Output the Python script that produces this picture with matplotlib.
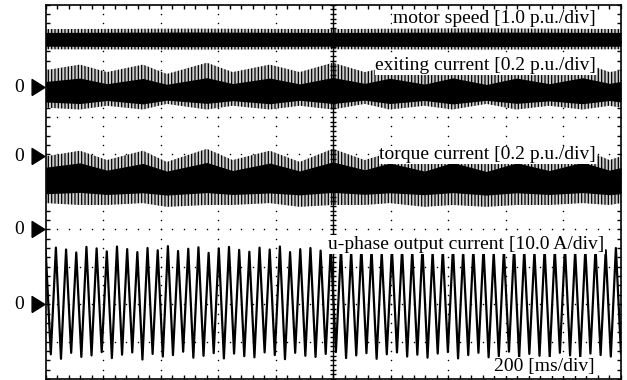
import numpy as np
import matplotlib.pyplot as plt

plt.rcParams['font.family'] = ['Liberation Serif', 'DejaVu Serif']
plt.rcParams['hatch.linewidth'] = 0.9

# time axis: 200 ms/div, 10 div
t_end = 2000

# envelope break points (ms) of the slowly pulsing current traces
env_t = [0, 119, 213, 338, 421, 560, 650, 779, 883, 998,
         1109, 1196, 1317, 1415, 1532, 1637, 1751, 1866, 1960, 2000]

# exciting current [p.u.]
ex_core_hi = [0.400, 0.418, 0.388, 0.416, 0.385, 0.420, 0.389, 0.418, 0.387, 0.421,
              0.390, 0.417, 0.386, 0.419, 0.384, 0.418, 0.388, 0.420, 0.390, 0.400]
ex_core_lo = [0.290, 0.282, 0.298, 0.280, 0.300, 0.283, 0.297, 0.281, 0.299, 0.282,
              0.300, 0.282, 0.298, 0.280, 0.299, 0.283, 0.296, 0.281, 0.298, 0.290]
ex_peak_hi = [0.46, 0.49, 0.45, 0.49, 0.44, 0.50, 0.45, 0.49, 0.45, 0.50,
              0.45, 0.48, 0.44, 0.49, 0.44, 0.49, 0.45, 0.50, 0.45, 0.46]
ex_peak_lo = [0.26, 0.25, 0.27, 0.25, 0.28, 0.25, 0.27, 0.25, 0.27, 0.25,
              0.28, 0.25, 0.27, 0.25, 0.28, 0.25, 0.27, 0.25, 0.27, 0.26]

# torque current [p.u.]
tq_core_hi = [0.332, 0.355, 0.316, 0.352, 0.311, 0.357, 0.314, 0.354, 0.312, 0.360,
              0.318, 0.354, 0.311, 0.357, 0.309, 0.355, 0.314, 0.358, 0.316, 0.330]
tq_core_lo = [0.190, 0.197, 0.186, 0.195, 0.183, 0.196, 0.186, 0.194, 0.184, 0.197,
              0.187, 0.195, 0.185, 0.196, 0.183, 0.195, 0.186, 0.196, 0.185, 0.190]
tq_peak_hi = [0.39, 0.42, 0.37, 0.42, 0.36, 0.43, 0.37, 0.42, 0.36, 0.43,
              0.37, 0.41, 0.36, 0.42, 0.36, 0.42, 0.37, 0.43, 0.37, 0.39]
tq_peak_lo = [0.14, 0.13, 0.13, 0.14, 0.12, 0.13, 0.13, 0.14, 0.12, 0.13,
              0.13, 0.14, 0.12, 0.13, 0.12, 0.13, 0.13, 0.14, 0.13, 0.14]

# motor speed [p.u.]
sp_t = [0, 500, 1000, 1500, 2000]
sp_core_hi = [1.46, 1.47, 1.46, 1.47, 1.46]
sp_core_lo = [1.09, 1.08, 1.09, 1.08, 1.09]
sp_peak_hi = [1.55, 1.56, 1.55, 1.57, 1.55]
sp_peak_lo = [1.01, 1.00, 1.01, 1.00, 1.01]

# u-phase output current [A], positive and negative peaks of each cycle
u_pos = [14.2, 15.1, 14.6, 13.8, 15.3, 14.9, 14.1, 15.4, 14.7, 13.9,
         15.0, 14.4, 15.5, 14.2, 14.8, 15.2, 13.7, 14.9, 15.3, 14.5,
         14.0, 15.1, 14.6, 15.4, 13.9, 14.7, 15.0, 14.3, 15.5, 14.8,
         14.1, 15.2, 14.6, 13.8, 15.0, 14.9, 14.4, 15.3, 14.0, 14.7,
         15.4, 14.2, 14.8, 15.1, 13.9, 14.6, 15.3, 14.5, 14.1, 15.0,
         14.7, 15.2, 14.3, 14.9, 15.1, 14.4, 15.0]
u_neg = [-13.4, -14.6, -13.0, -14.1, -13.7, -12.8, -14.4, -13.5, -12.9, -14.8,
         -13.3, -14.0, -13.6, -12.7, -14.3, -13.8, -13.1, -14.5, -13.2, -13.9,
         -14.2, -12.9, -13.6, -14.7, -13.0, -13.8, -14.1, -13.3, -12.8, -14.4,
         -13.7, -13.1, -14.6, -13.4, -12.9, -14.0, -13.5, -14.3, -13.2, -12.8,
         -14.5, -13.6, -13.0, -14.2, -13.9, -12.7, -14.4, -13.3, -13.8, -14.1,
         -13.0, -13.7, -14.3, -13.2, -13.6, -14.0, -13.1]

# screen position of each channel's zero [div] and its scale [unit/div]
sp_zero, sp_scale = 2.8, 1.0
ex_zero, ex_scale = 0.95, 0.2
tq_zero, tq_scale = -1.0, 0.2
u_zero, u_scale = -3.0, 10.0

fig = plt.figure(figsize=(6.27, 3.80), dpi=100)
ax = fig.add_axes([0.0729, 0.0026, 0.9175, 0.985])
ax.set_xlim(0, t_end)
ax.set_ylim(-5, 5)

# graticule: dotted division lines, solid centre cross with fine ticks
xdots = np.arange(0, t_end + 1, 40)
ydots = np.arange(-5, 5.01, 0.25)
for k in range(1, 10):
    if k != 5:
        ax.plot(np.full(len(ydots), 200 * k), ydots, 'k.', ms=2.2, mew=0, zorder=1)
for k in range(-4, 5):
    if k != 0:
        ax.plot(xdots, np.full(len(xdots), k), 'k.', ms=2.2, mew=0, zorder=1)
ax.axvline(1000, color='k', lw=1.0, zorder=4)
ax.axhline(0, color='k', lw=1.0, zorder=1)
yc = np.arange(-5, 5.01, 0.125)
ax.plot(np.full(len(yc), 1000), yc, 'k_', ms=5, mew=1.0, zorder=4)

ax.set_xticks(np.arange(0, t_end + 1, 40))
ax.set_yticks(np.arange(-5, 5.01, 0.25))
ax.tick_params(direction='in', length=3, width=1, top=True, right=True,
               labelbottom=False, labelleft=False)
for spine in ax.spines.values():
    spine.set_linewidth(1.2)


def band(t, hi, lo, zero, scale, core=True):
    lo = zero + np.array(lo) / scale
    hi = zero + np.array(hi) / scale
    if core:
        ax.fill_between(t, lo, hi, color='k', lw=0, zorder=2)
    else:
        # noise spikes around the solid core
        ax.fill_between(t, lo, hi, facecolor='0.8', edgecolor='k', hatch='|||||',
                        lw=0, zorder=2)


band(sp_t, sp_peak_hi, sp_peak_lo, sp_zero, sp_scale, core=False)
band(sp_t, sp_core_hi, sp_core_lo, sp_zero, sp_scale)
band(env_t, ex_peak_hi, ex_peak_lo, ex_zero, ex_scale, core=False)
band(env_t, ex_core_hi, ex_core_lo, ex_zero, ex_scale)
band(env_t, tq_peak_hi, tq_peak_lo, tq_zero, tq_scale, core=False)
band(env_t, tq_core_hi, tq_core_lo, tq_zero, tq_scale)

u_vals = np.ravel(np.column_stack([u_pos, u_neg]))
u_t = np.linspace(0, t_end, len(u_vals))
ax.plot(u_t, u_zero + u_vals / u_scale, color='k', lw=1.6, zorder=3)

# channel labels
lab = dict(ha='right', va='baseline', fontsize=14, zorder=6,
           bbox=dict(fc='white', ec='none', pad=0.5))
ax.text(1911, 4.50, 'motor speed [1.0 p.u./div]', **lab)
ax.text(1914, 3.25, 'exiting current [0.2 p.u./div]', **lab)
ax.text(1914, 0.87, 'torque current [0.2 p.u./div]', **lab)
ax.text(1942, -1.53, 'u-phase output current [10.0 A/div]', **lab)
ax.text(1908, -4.79, '200 [ms/div]', **lab)

# zero markers
tri = [(-0.8, -1), (0.8, 0), (-0.8, 1), (-0.8, -1)]
for z in [sp_zero, ex_zero, tq_zero, u_zero]:
    ax.plot([-27], [z], marker=tri, ms=11.5, color='k', clip_on=False)
    ax.text(-94, z, '0', ha='center', va='center', fontsize=14)

plt.savefig('out.png', dpi=100)
